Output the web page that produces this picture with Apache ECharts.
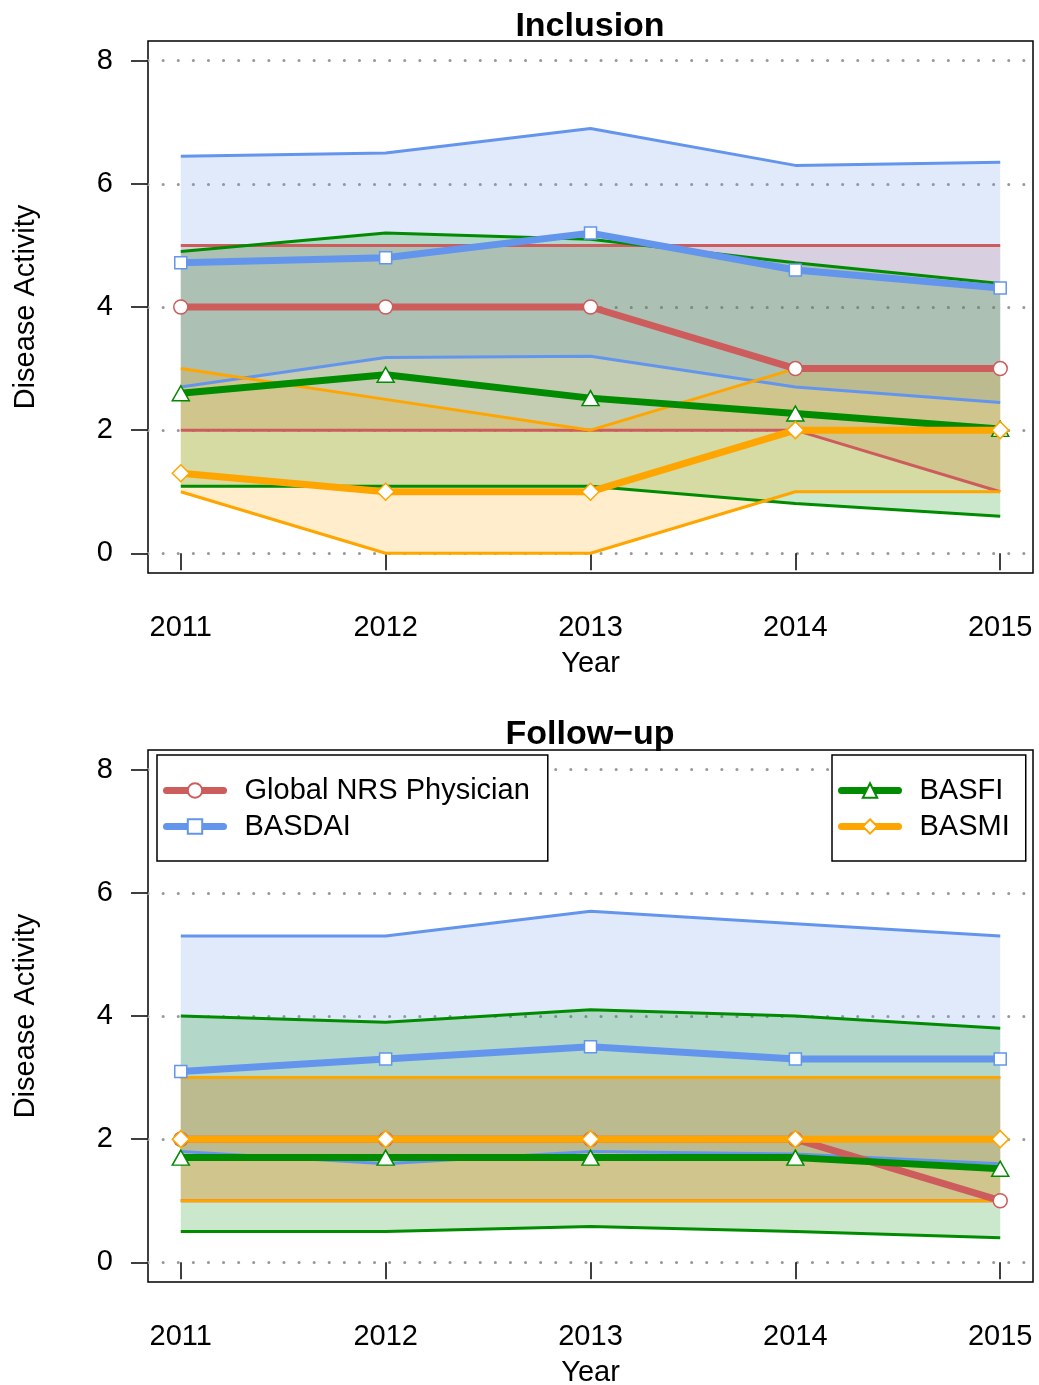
<!DOCTYPE html>
<html><head><meta charset="utf-8">
<script src="https://cdn.jsdelivr.net/npm/echarts@6/dist/echarts.min.js"></script>
<style>html,body{margin:0;padding:0;background:#fff}#c{width:1039px;height:1385px}</style>
</head><body><div id="c"></div>
<script>
const years = [2011, 2012, 2013, 2014, 2015];
const yTicks = [0, 2, 4, 6, 8];
const seriesNames = ['Global NRS Physician', 'BASDAI', 'BASFI', 'BASMI'];
const panelTitles = ['Inclusion', 'Follow\u2212up'];

// Inclusion (medians and quartiles)
const incNrsMed = [4, 4, 4, 3, 3];
const incNrsLow = [2, 2, 2, 2, 1];
const incNrsHigh = [5, 5, 5, 5, 5];
const incBasdaiMed = [4.72, 4.8, 5.2, 4.6, 4.31];
const incBasdaiLow = [2.7, 3.18, 3.2, 2.7, 2.45];
const incBasdaiHigh = [6.45, 6.5, 6.9, 6.3, 6.35];
const incBasfiMed = [2.6, 2.9, 2.52, 2.27, 2.02];
const incBasfiLow = [1.09, 1.09, 1.09, 0.81, 0.6];
const incBasfiHigh = [4.9, 5.2, 5.1, 4.72, 4.38];
const incBasmiMed = [1.3, 1, 1, 2, 2];
const incBasmiLow = [1, 0, 0, 1, 1];
const incBasmiHigh = [3, 2.5, 2, 3, 3];

// Follow-up
const fuNrsMed = [2, 2, 2, 2, 1];
const fuNrsLow = [1, 1, 1, 1, 1];
const fuNrsHigh = [3, 3, 3, 3, 3];
const fuBasdaiMed = [3.1, 3.3, 3.5, 3.3, 3.3];
const fuBasdaiLow = [1.8, 1.6, 1.8, 1.76, 1.6];
const fuBasdaiHigh = [5.3, 5.3, 5.7, 5.5, 5.3];
const fuBasfiMed = [1.7, 1.7, 1.7, 1.7, 1.52];
const fuBasfiLow = [0.5, 0.5, 0.58, 0.5, 0.4];
const fuBasfiHigh = [4.0, 3.9, 4.1, 4.0, 3.8];
const fuBasmiMed = [2, 2, 2, 2, 2];
const fuBasmiLow = [1, 1, 1, 1, 1];
const fuBasmiHigh = [3, 3, 3, 3, 3];

const colors = ['#CD5C5C', '#6495ED', '#008B00', '#FFA500'];
const fills = ['rgba(205,92,92,0.2)', 'rgba(100,149,237,0.2)', 'rgba(0,139,0,0.2)', 'rgba(255,165,0,0.2)'];
const symbols = ['circle', 'rect', 'triangle', 'diamond'];
const symbolSizes = [14, 12, [17, 15], [17, 17]];
const FONT = '"Liberation Sans", Arial, Helvetica, sans-serif';
const FS = 29;

const panels = [
  { med: [incNrsMed, incBasdaiMed, incBasfiMed, incBasmiMed],
    low: [incNrsLow, incBasdaiLow, incBasfiLow, incBasmiLow],
    high: [incNrsHigh, incBasdaiHigh, incBasfiHigh, incBasmiHigh] },
  { med: [fuNrsMed, fuBasdaiMed, fuBasfiMed, fuBasmiMed],
    low: [fuNrsLow, fuBasdaiLow, fuBasfiLow, fuBasmiLow],
    high: [fuNrsHigh, fuBasdaiHigh, fuBasfiHigh, fuBasmiHigh] }
];

const pairs = arr => years.map((y, i) => [y, arr[i]]);

const series = [];
panels.forEach((p, pi) => {
  for (let k = 0; k < 4; k++) {
    const low = p.low[k], high = p.high[k];
    series.push({
      type: 'custom', xAxisIndex: pi, yAxisIndex: pi, silent: true,
      data: years.map((y, i) => [y, low[i], high[i]]),
      encode: { x: 0, y: [1, 2] },
      renderItem: (params, api) => {
        if (params.dataIndex !== 0) return null;
        const top = years.map((y, i) => api.coord([y, high[i]]));
        const bot = years.map((y, i) => api.coord([y, low[i]])).reverse();
        return { type: 'polygon', shape: { points: top.concat(bot) }, style: { fill: fills[k], stroke: null } };
      }
    });
    [low, high].forEach(arr => {
      series.push({
        type: 'line', xAxisIndex: pi, yAxisIndex: pi, silent: true,
        data: pairs(arr), symbol: 'none',
        lineStyle: { color: colors[k], width: 3 }
      });
    });
  }
});
panels.forEach((p, pi) => {
  for (let k = 0; k < 4; k++) {
    series.push({
      type: 'line', name: seriesNames[k], xAxisIndex: pi, yAxisIndex: pi,
      data: pairs(p.med[k]), symbol: symbols[k], symbolSize: symbolSizes[k],
      showAllSymbol: true,
      lineStyle: { color: colors[k], width: 7, cap: 'round', join: 'round' },
      itemStyle: { color: '#fff', borderColor: colors[k], borderWidth: 1.5 },
      emphasis: { disabled: true }
    });
  }
});

const gridTops = [41, 750];
const grids = gridTops.map(t => ({
  left: 148, top: t, width: 885, height: 532, show: true,
  borderColor: '#000', borderWidth: 1.5, backgroundColor: 'transparent',
  containLabel: false, outerBoundsMode: 'none'
}));

const xAxes = [0, 1].map(i => ({
  type: 'value', gridIndex: i, min: 2010.84, max: 2015.16,
  name: 'Year', nameLocation: 'middle', nameGap: 76,
  nameTextStyle: { fontSize: FS, color: '#000', fontFamily: FONT },
  axisLine: { show: false },
  axisTick: { show: true, inside: false, length: 17, customValues: years, lineStyle: { color: '#000', width: 1.5 } },
  axisLabel: { show: true, customValues: years, margin: 40, fontSize: FS, color: '#000', fontFamily: FONT, formatter: v => String(v) },
  splitLine: { show: false }
}));

const yAxes = [0, 1].map(i => ({
  type: 'value', gridIndex: i, min: -0.32, max: 8.32,
  name: 'Disease Activity', nameLocation: 'middle', nameGap: 108, nameRotate: 90,
  nameTextStyle: { fontSize: FS, color: '#000', fontFamily: FONT },
  axisLine: { show: false },
  axisTick: { show: true, inside: false, length: 17, customValues: yTicks, lineStyle: { color: '#000', width: 1.5 } },
  axisLabel: { show: true, customValues: yTicks, margin: 35, fontSize: FS, color: '#000', fontFamily: FONT },
  splitLine: { show: true, lineStyle: { color: '#999', width: 3, type: [0.1, 15], cap: 'round' } }
}));

const legendCommon = {
  orient: 'vertical', itemWidth: 57, itemHeight: 18, itemGap: 7,
  borderColor: '#000', borderWidth: 1.5, backgroundColor: '#fff', borderRadius: 0,
  selectedMode: false,
  lineStyle: { width: 7, cap: 'round' },
  textStyle: { fontSize: FS, lineHeight: 29, color: '#000', fontFamily: FONT, padding: [0, 0, 0, 16] },
  z: 10
};

const option = {
  animation: false,
  backgroundColor: '#fff',
  graphic: panelTitles.map((t, i) => ({
    type: 'text', x: 590, y: i === 0 ? 27 : 735, z: 20,
    style: { text: t, fontSize: 34, fontWeight: 'bold', fontFamily: FONT, fill: '#000',
             textAlign: 'center', textVerticalAlign: 'middle' }
  })),
  legend: [
    Object.assign({}, legendCommon, { left: 157, top: 755, padding: [21, 18, 20, 6], data: ['Global NRS Physician', 'BASDAI'] }),
    Object.assign({}, legendCommon, { left: 832, top: 755, padding: [21, 16, 20, 6], data: ['BASFI', 'BASMI'] })
  ],
  grid: grids,
  xAxis: xAxes,
  yAxis: yAxes,
  series: series
};

const chart = echarts.init(document.getElementById('c'), null, { renderer: 'canvas' });
chart.setOption(option);
</script>
</body></html>
